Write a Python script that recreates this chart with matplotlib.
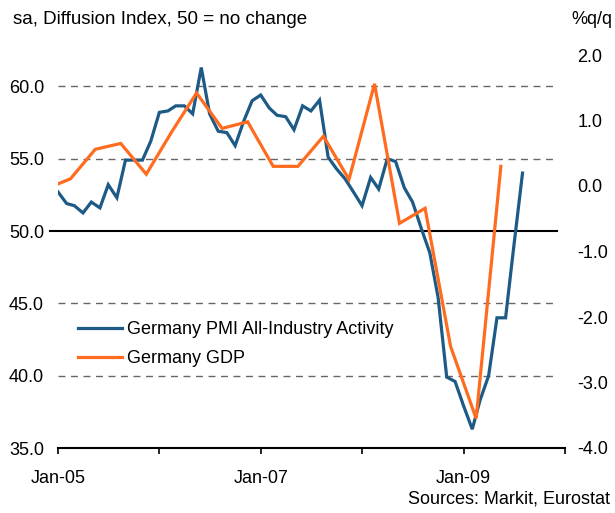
import matplotlib
matplotlib.use('Agg')
import matplotlib.pyplot as plt
import pandas as pd

plt.rcParams['font.family'] = ['Liberation Sans', 'DejaVu Sans']

# monthly PMI, Jan-05 .. Aug-09
pmi_start = '2005-01-01'
pmi = [52.7, 51.9, 51.75, 51.25, 52.0, 51.6, 53.2, 52.3, 54.9, 54.9, 54.9, 56.2,
       58.2, 58.3, 58.65, 58.65, 58.1, 61.3, 58.1, 56.9, 56.8, 55.9, 57.6, 59.0,
       59.4, 58.5, 58.0, 57.9, 57.0, 58.65, 58.3, 59.05, 55.1, 54.3, 53.6, 52.7,
       51.75, 53.7, 52.9, 55.0, 54.8, 53.0, 52.0, 50.2, 48.5, 45.4, 39.9, 39.6,
       37.9, 36.3, 38.3, 40.0, 44.0, 44.0, 49.0, 54.0]

# quarterly GDP %q/q, Q4-04 .. Q2-09 (plotted mid-quarter)
gdp_start = '2004-11-01'
gdp = [-0.05, 0.11, 0.56, 0.65, 0.18, 0.83, 1.42, 0.88, 0.98, 0.30, 0.30,
       0.76, 0.10, 1.56, -0.57, -0.34, -2.45, -3.55, 0.30]

year_ticks = ['2005-01-01', '2006-01-01', '2007-01-01', '2008-01-01', '2009-01-01', '2010-01-01']
year_labels = ['Jan-05', '', 'Jan-07', '', 'Jan-09', '']
left_ticks = [35, 40, 45, 50, 55, 60]
right_ticks = [-4, -3, -2, -1, 0, 1, 2]

blue = '#1d5a86'
orange = '#ff6c1f'
fs = 13

pmi_x = pd.date_range(pmi_start, periods=len(pmi), freq='MS')
gdp_x = pd.date_range(gdp_start, periods=len(gdp), freq='3MS') + pd.Timedelta(days=14)

W, H = 615, 513
fig = plt.figure(figsize=(W / 100, H / 100), dpi=100)
L, R, B, T = 58, 565, 448, 14
ax = fig.add_axes([L / W, 1 - B / H, (R - L) / W, (B - T) / H])
ax2 = ax.twinx()

# gridlines
gx = (557 - L) / (R - L)
for v in [40, 45, 55, 60]:
    ax.axhline(v, xmin=0, xmax=gx, color='#666666', lw=1.0, ls=(0, (5, 4)), zorder=1)
ax.axhline(50, xmin=-8 / (R - L), xmax=gx, color='black', lw=1.5, zorder=1, clip_on=False)

l1, = ax.plot(pmi_x, pmi, color=blue, lw=2.3, label='Germany PMI All-Industry Activity',
              solid_joinstyle='miter', zorder=3)
l2, = ax2.plot(gdp_x, gdp, color=orange, lw=2.3, label='Germany GDP', solid_joinstyle='miter')

ax.set_xlim(pd.Timestamp('2005-01-01'), pd.Timestamp('2010-01-01'))
ax.set_ylim(35, 65)
ax2.set_ylim(-4, -4 + (B - T) / 65.5)

ax.set_xticks(pd.to_datetime(year_ticks))
ax.set_xticklabels(year_labels)
ax.set_yticks(left_ticks)
ax.set_yticklabels(['%.1f' % v for v in left_ticks])
ax2.set_yticks(right_ticks)
ax2.set_yticklabels(['%.1f' % v for v in right_ticks])

for a in (ax, ax2):
    for s in a.spines.values():
        s.set_visible(False)
ax.spines['bottom'].set_visible(True)
ax.spines['bottom'].set_linewidth(1.5)

ax.tick_params(axis='x', direction='out', length=4, width=1.2, pad=12, labelsize=fs)
ax.tick_params(axis='y', length=0, pad=10, labelsize=fs)
ax2.tick_params(axis='y', length=0, pad=9, labelsize=fs)

fig.legend(handles=[l1, l2], loc='upper left', bbox_to_anchor=(78 / W, 1 - 321 / H),
           frameon=False, fontsize=fs, handlelength=2.45, handletextpad=0.28,
           labelspacing=0.68, borderpad=0, borderaxespad=0)

fig.text(13 / W, 1 - 20 / H, 'sa, Diffusion Index, 50 = no change', fontsize=fs + 0.5,
         ha='left', va='center')
fig.text(612 / W, 1 - 20 / H, '%q/q', fontsize=fs, ha='right', va='center')
fig.text(610 / W, 1 - 499 / H, 'Sources: Markit, Eurostat', fontsize=fs,
         ha='right', va='center')

fig.savefig('out.png', dpi=100)
